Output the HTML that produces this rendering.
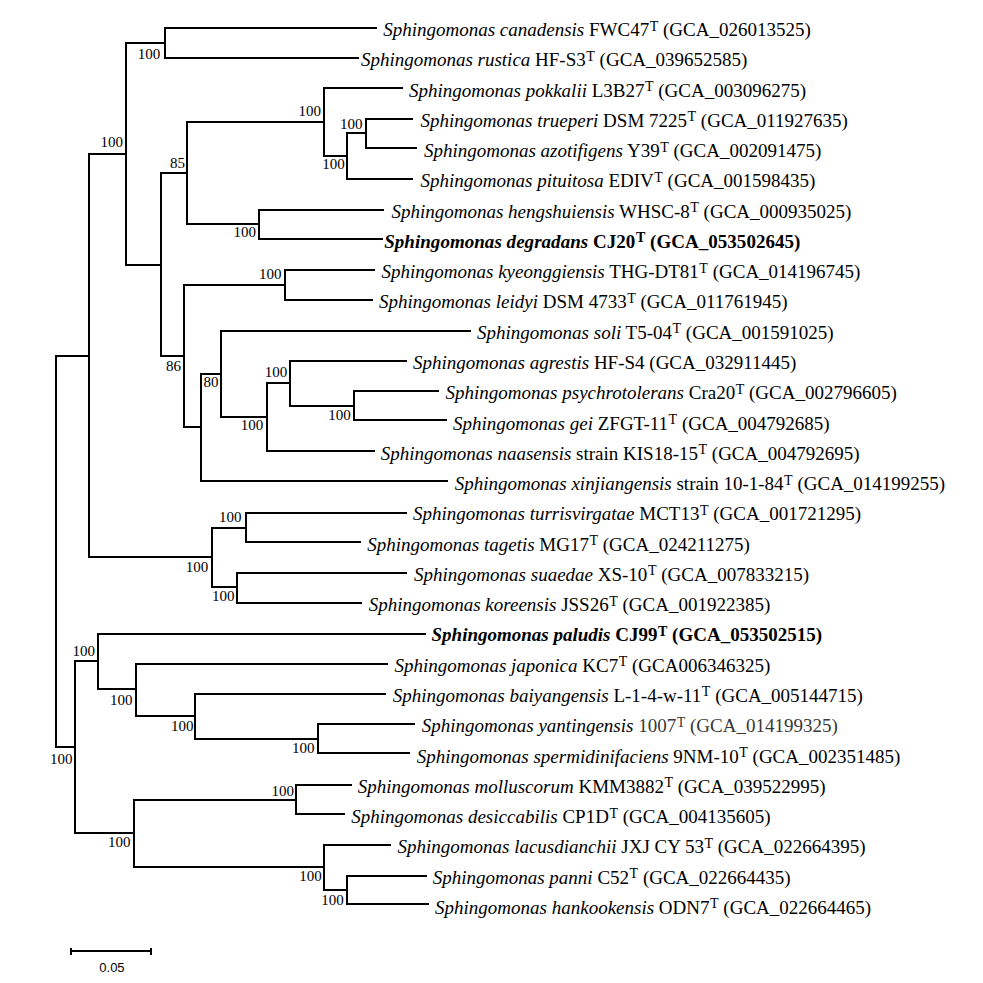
<!DOCTYPE html>
<html><head><meta charset="utf-8"><style>
html,body{margin:0;padding:0;background:#fff;}
body{width:983px;height:983px;position:relative;overflow:hidden;}
svg{position:absolute;left:0;top:0;}
.lb{position:absolute;font-family:"Liberation Serif",serif;font-size:19px;line-height:19px;white-space:nowrap;color:#000;}
.lb.b{font-weight:bold;}
.sup{font-size:14px;position:relative;top:-5.5px;margin-left:0.5px;}
.bs{position:absolute;font-family:"Liberation Serif",serif;font-size:15px;line-height:15px;white-space:nowrap;color:#000;}
.sc{position:absolute;font-family:"Liberation Sans",sans-serif;font-size:13px;line-height:13px;white-space:nowrap;color:#000;}
</style></head><body>
<svg width="983" height="983" shape-rendering="crispEdges" fill="#000">
<rect x="55" y="355" width="2" height="393"/>
<rect x="55" y="355" width="35" height="2"/>
<rect x="55" y="746" width="21" height="2"/>
<rect x="88" y="153" width="2" height="405"/>
<rect x="88" y="153" width="39" height="2"/>
<rect x="88" y="556" width="125" height="2"/>
<rect x="125" y="42" width="2" height="224"/>
<rect x="125" y="42" width="41" height="2"/>
<rect x="125" y="264" width="37" height="2"/>
<rect x="164" y="27" width="2" height="32"/>
<rect x="164" y="27" width="213" height="2"/>
<rect x="164" y="57" width="195" height="2"/>
<rect x="160" y="172" width="2" height="185"/>
<rect x="160" y="172" width="28" height="2"/>
<rect x="160" y="355" width="25" height="2"/>
<rect x="186" y="121" width="2" height="104"/>
<rect x="186" y="121" width="139" height="2"/>
<rect x="186" y="223" width="74" height="2"/>
<rect x="323" y="87" width="2" height="70"/>
<rect x="323" y="87" width="80" height="2"/>
<rect x="323" y="155" width="25" height="2"/>
<rect x="346" y="132" width="2" height="48"/>
<rect x="346" y="132" width="21" height="2"/>
<rect x="346" y="178" width="67" height="2"/>
<rect x="365" y="118" width="2" height="31"/>
<rect x="365" y="118" width="48" height="2"/>
<rect x="365" y="147" width="52" height="2"/>
<rect x="258" y="209" width="2" height="31"/>
<rect x="258" y="209" width="126" height="2"/>
<rect x="258" y="238" width="125" height="2"/>
<rect x="183" y="284" width="2" height="144"/>
<rect x="183" y="284" width="103" height="2"/>
<rect x="183" y="426" width="19" height="2"/>
<rect x="284" y="269" width="2" height="32"/>
<rect x="284" y="269" width="91" height="2"/>
<rect x="284" y="299" width="89" height="2"/>
<rect x="200" y="373" width="2" height="109"/>
<rect x="200" y="373" width="22" height="2"/>
<rect x="200" y="480" width="248" height="2"/>
<rect x="220" y="330" width="2" height="88"/>
<rect x="220" y="330" width="251" height="2"/>
<rect x="220" y="416" width="48" height="2"/>
<rect x="266" y="382" width="2" height="70"/>
<rect x="266" y="382" width="25" height="2"/>
<rect x="266" y="450" width="109" height="2"/>
<rect x="289" y="360" width="2" height="47"/>
<rect x="289" y="360" width="118" height="2"/>
<rect x="289" y="405" width="66" height="2"/>
<rect x="353" y="390" width="2" height="31"/>
<rect x="353" y="390" width="86" height="2"/>
<rect x="353" y="419" width="94" height="2"/>
<rect x="211" y="527" width="2" height="61"/>
<rect x="211" y="527" width="36" height="2"/>
<rect x="211" y="586" width="27" height="2"/>
<rect x="245" y="512" width="2" height="31"/>
<rect x="245" y="512" width="162" height="2"/>
<rect x="245" y="541" width="116" height="2"/>
<rect x="236" y="572" width="2" height="32"/>
<rect x="236" y="572" width="171" height="2"/>
<rect x="236" y="602" width="126" height="2"/>
<rect x="74" y="660" width="2" height="174"/>
<rect x="74" y="660" width="25" height="2"/>
<rect x="74" y="832" width="61" height="2"/>
<rect x="97" y="633" width="2" height="57"/>
<rect x="97" y="633" width="329" height="2"/>
<rect x="97" y="688" width="40" height="2"/>
<rect x="135" y="663" width="2" height="54"/>
<rect x="135" y="663" width="253" height="2"/>
<rect x="135" y="715" width="61" height="2"/>
<rect x="194" y="693" width="2" height="47"/>
<rect x="194" y="693" width="192" height="2"/>
<rect x="194" y="738" width="125" height="2"/>
<rect x="317" y="723" width="2" height="31"/>
<rect x="317" y="723" width="98" height="2"/>
<rect x="317" y="752" width="93" height="2"/>
<rect x="133" y="799" width="2" height="69"/>
<rect x="133" y="799" width="164" height="2"/>
<rect x="133" y="866" width="192" height="2"/>
<rect x="295" y="784" width="2" height="31"/>
<rect x="295" y="784" width="57" height="2"/>
<rect x="295" y="813" width="50" height="2"/>
<rect x="323" y="844" width="2" height="47"/>
<rect x="323" y="844" width="68" height="2"/>
<rect x="323" y="889" width="25" height="2"/>
<rect x="346" y="875" width="2" height="30"/>
<rect x="346" y="875" width="81" height="2"/>
<rect x="346" y="903" width="83" height="2"/>
<rect x="70" y="950" width="82" height="2"/>
<rect x="70" y="948" width="2" height="7"/>
<rect x="150" y="948" width="2" height="7"/>
</svg>
<div class="lb" style="left:383.2px;top:20.0px"><i>Sphingomonas canadensis</i> FWC47<span class="sup">T</span> (GCA_026013525)</div>
<div class="lb" style="left:360.9px;top:50.3px"><i>Sphingomonas rustica</i> HF-S3<span class="sup">T</span> (GCA_039652585)</div>
<div class="lb" style="left:409.1px;top:80.5px"><i>Sphingomonas pokkalii</i> L3B27<span class="sup">T</span> (GCA_003096275)</div>
<div class="lb" style="left:420.5px;top:110.8px"><i>Sphingomonas trueperi</i> DSM 7225<span class="sup">T</span> (GCA_011927635)</div>
<div class="lb" style="left:423.9px;top:141.1px"><i>Sphingomonas azotifigens</i> Y39<span class="sup">T</span> (GCA_002091475)</div>
<div class="lb" style="left:420.5px;top:171.3px"><i>Sphingomonas pituitosa</i> EDIV<span class="sup">T</span> (GCA_001598435)</div>
<div class="lb" style="left:391.4px;top:201.6px"><i>Sphingomonas hengshuiensis</i> WHSC-8<span class="sup">T</span> (GCA_000935025)</div>
<div class="lb b" style="left:384.2px;top:231.9px;letter-spacing:0.035px"><i>Sphingomonas degradans</i> CJ20<span class="sup">T</span> (GCA_053502645)</div>
<div class="lb" style="left:381.5px;top:262.2px"><i>Sphingomonas kyeonggiensis</i> THG-DT81<span class="sup">T</span> (GCA_014196745)</div>
<div class="lb" style="left:379.1px;top:292.4px"><i>Sphingomonas leidyi</i> DSM 4733<span class="sup">T</span> (GCA_011761945)</div>
<div class="lb" style="left:477.1px;top:322.7px"><i>Sphingomonas soli</i> T5-04<span class="sup">T</span> (GCA_001591025)</div>
<div class="lb" style="left:413.0px;top:353.0px"><i>Sphingomonas agrestis</i> HF-S4 (GCA_032911445)</div>
<div class="lb" style="left:445.6px;top:383.2px"><i>Sphingomonas psychrotolerans</i> Cra20<span class="sup">T</span> (GCA_002796605)</div>
<div class="lb" style="left:453.1px;top:413.5px"><i>Sphingomonas gei</i> ZFGT-11<span class="sup">T</span> (GCA_004792685)</div>
<div class="lb" style="left:380.8px;top:443.8px"><i>Sphingomonas naasensis</i> strain KIS18-15<span class="sup">T</span> (GCA_004792695)</div>
<div class="lb" style="left:454.8px;top:474.1px"><i>Sphingomonas xinjiangensis</i> strain 10-1-84<span class="sup">T</span> (GCA_014199255)</div>
<div class="lb" style="left:413.0px;top:504.3px"><i>Sphingomonas turrisvirgatae</i> MCT13<span class="sup">T</span> (GCA_001721295)</div>
<div class="lb" style="left:367.3px;top:534.6px"><i>Sphingomonas tagetis</i> MG17<span class="sup">T</span> (GCA_024211275)</div>
<div class="lb" style="left:414.1px;top:564.9px"><i>Sphingomonas suaedae</i> XS-10<span class="sup">T</span> (GCA_007833215)</div>
<div class="lb" style="left:368.7px;top:595.1px"><i>Sphingomonas koreensis</i> JSS26<span class="sup">T</span> (GCA_001922385)</div>
<div class="lb b" style="left:431.5px;top:625.4px"><i>Sphingomonas paludis</i> CJ99<span class="sup">T</span> (GCA_053502515)</div>
<div class="lb" style="left:394.4px;top:655.7px"><i>Sphingomonas japonica</i> KC7<span class="sup">T</span> (GCA006346325)</div>
<div class="lb" style="left:392.8px;top:685.9px"><i>Sphingomonas baiyangensis</i> L-1-4-w-11<span class="sup">T</span> (GCA_005144715)</div>
<div class="lb" style="left:421.8px;top:716.2px"><i>Sphingomonas yantingensis</i> <span style="color:#383838">1007<span class="sup">T</span> (GCA_014199325)</span></div>
<div class="lb" style="left:416.8px;top:746.5px"><i>Sphingomonas spermidinifaciens</i> 9NM-10<span class="sup">T</span> (GCA_002351485)</div>
<div class="lb" style="left:357.8px;top:776.8px"><i>Sphingomonas molluscorum</i> KMM3882<span class="sup">T</span> (GCA_039522995)</div>
<div class="lb" style="left:351.3px;top:807.0px"><i>Sphingomonas desiccabilis</i> CP1D<span class="sup">T</span> (GCA_004135605)</div>
<div class="lb" style="left:397.5px;top:837.3px"><i>Sphingomonas lacusdianchii</i> JXJ CY 53<span class="sup">T</span> (GCA_022664395)</div>
<div class="lb" style="left:432.7px;top:867.6px"><i>Sphingomonas panni</i> C52<span class="sup">T</span> (GCA_022664435)</div>
<div class="lb" style="left:435.1px;top:897.8px"><i>Sphingomonas hankookensis</i> ODN7<span class="sup">T</span> (GCA_022664465)</div>
<div class="bs" style="left:137.8px;top:46.6px">100</div>
<div class="bs" style="left:100.4px;top:134.7px">100</div>
<div class="bs" style="left:170.0px;top:155.7px">85</div>
<div class="bs" style="left:298.4px;top:103.8px">100</div>
<div class="bs" style="left:322.2px;top:156.7px">100</div>
<div class="bs" style="left:340.1px;top:116.7px">100</div>
<div class="bs" style="left:233.6px;top:225.2px">100</div>
<div class="bs" style="left:165.9px;top:358.7px">86</div>
<div class="bs" style="left:259.1px;top:267.4px">100</div>
<div class="bs" style="left:203.6px;top:375.4px">80</div>
<div class="bs" style="left:240.8px;top:418.4px">100</div>
<div class="bs" style="left:264.8px;top:364.9px">100</div>
<div class="bs" style="left:328.3px;top:408.0px">100</div>
<div class="bs" style="left:185.7px;top:560.2px">100</div>
<div class="bs" style="left:219.1px;top:510.0px">100</div>
<div class="bs" style="left:212.0px;top:589.3px">100</div>
<div class="bs" style="left:50.0px;top:752.0px">100</div>
<div class="bs" style="left:72.4px;top:643.8px">100</div>
<div class="bs" style="left:110.0px;top:693.0px">100</div>
<div class="bs" style="left:171.0px;top:718.9px">100</div>
<div class="bs" style="left:292.1px;top:741.1px">100</div>
<div class="bs" style="left:108.0px;top:834.7px">100</div>
<div class="bs" style="left:271.4px;top:783.8px">100</div>
<div class="bs" style="left:299.2px;top:869.0px">100</div>
<div class="bs" style="left:321.2px;top:893.4px">100</div>
<div class="sc" style="left:99.3px;top:960.5px">0.05</div>
</body></html>
